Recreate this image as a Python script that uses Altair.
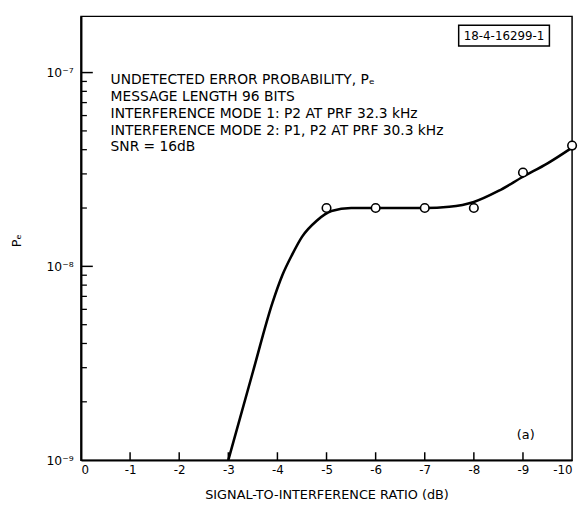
import altair as alt
import pandas as pd

# measured points
pt_x = [-5, -6, -7, -8, -9, -10]
pt_y = [2.0e-8, 2.0e-8, 2.0e-8, 2.0e-8, 3.05e-8, 4.2e-8]

# fitted curve
cv_x = [-3, -3.5, -3.9, -4.1, -4.3, -4.5, -4.8, -5.1, -5.5, -6, -7, -7.5, -8, -8.5, -9, -9.5, -10]
cv_y = [1e-9, 2.85e-9, 6.5e-9, 9e-9, 1.15e-8, 1.42e-8, 1.72e-8, 1.93e-8, 2.0e-8, 2.0e-8,
        2.0e-8, 2.03e-8, 2.15e-8, 2.45e-8, 2.9e-8, 3.4e-8, 4.1e-8]

x_ticks = [0, -1, -2, -3, -4, -5, -6, -7, -8, -9, -10]
inner_x_ticks = [-1, -2, -3, -4, -5, -6, -7, -8, -9]
y_major = [1e-9, 1e-8, 1e-7]
y_minor = [2e-9, 3e-9, 4e-9, 5e-9, 6e-9, 7e-9, 8e-9, 9e-9,
           2e-8, 3e-8, 4e-8, 5e-8, 6e-8, 7e-8, 8e-8, 9e-8]

notes = ["UNDETECTED ERROR PROBABILITY, P\u2091",
         "MESSAGE LENGTH 96 BITS",
         "INTERFERENCE MODE 1: P2 AT PRF 32.3 kHz",
         "INTERFERENCE MODE 2: P1, P2 AT PRF 30.3 kHz",
         "SNR = 16dB"]

FONT = "DejaVu Sans"
W, H = 498, 450

xscale = alt.Scale(domain=[0, -10], nice=False, zero=False)
yscale = alt.Scale(type="log", domain=[1e-9, 1.95e-7], nice=False)

xaxis = alt.Axis(values=x_ticks, tickSize=0, grid=False, labelPadding=5,
                 labelExpr="datum.value == 0 ? '0' : '-' + abs(datum.value)",
                 labelFont=FONT, labelFontSize=12, labelColor="black",
                 title="SIGNAL-TO-INTERFERENCE RATIO (dB)", titleFont=FONT,
                 titleFontSize=13, titleFontWeight="normal", titlePadding=13,
                 titleColor="black", domainColor="black", domainWidth=2)
yaxis = alt.Axis(values=y_major, tickSize=0, grid=False, labelPadding=8,
                 labelExpr="datum.value > 5e-8 ? '10\u207b\u2077' : (datum.value > 5e-9 ? '10\u207b\u2078' : '10\u207b\u2079')",
                 labelFont=FONT, labelFontSize=12.5, labelColor="black",
                 title="P\u2091", titleFont=FONT, titleFontSize=13,
                 titleFontWeight="normal", titleColor="black",
                 titleX=-58, titleY=227, titleAngle=-90,
                 domainColor="black", domainWidth=2)

curve_df = pd.DataFrame({"sir": cv_x, "pe": cv_y})
pts_df = pd.DataFrame({"sir": pt_x, "pe": pt_y})

curve = alt.Chart(curve_df).mark_line(color="black", strokeWidth=2.6, interpolate="monotone").encode(
    x=alt.X("sir:Q", scale=xscale, axis=xaxis),
    y=alt.Y("pe:Q", scale=yscale, axis=yaxis),
)

points = alt.Chart(pts_df).mark_point(shape="circle", size=75, filled=True, fill="white",
                                      stroke="black", strokeWidth=1.6, opacity=1).encode(
    x=alt.X("sir:Q", scale=xscale),
    y=alt.Y("pe:Q", scale=yscale),
)

xt = alt.Chart(pd.DataFrame({"sir": inner_x_ticks})).mark_rule(color="black", strokeWidth=1.5).encode(
    x=alt.X("sir:Q", scale=xscale),
    y=alt.value(H),
    y2=alt.value(H - 8),
)

ymaj = alt.Chart(pd.DataFrame({"pe": y_major[1:]})).mark_rule(color="black", strokeWidth=1.5).encode(
    y=alt.Y("pe:Q", scale=yscale),
    x=alt.value(0),
    x2=alt.value(12),
)

ymin = alt.Chart(pd.DataFrame({"pe": y_minor})).mark_rule(color="black", strokeWidth=1.3).encode(
    y=alt.Y("pe:Q", scale=yscale),
    x=alt.value(0),
    x2=alt.value(6),
)

one = alt.Data(values=[{}])

note = alt.Chart(one).mark_text(align="left", baseline="top", font=FONT, fontSize=14,
                                 lineBreak="\n", lineHeight=17, color="black").encode(
    x=alt.value(30), y=alt.value(58), text=alt.value("\n".join(notes)))

box = alt.Chart(one).mark_rect(fill="white", stroke="black", strokeWidth=1.5).encode(
    x=alt.value(383), x2=alt.value(475), y=alt.value(9), y2=alt.value(30))

box_text = alt.Chart(one).mark_text(align="center", baseline="middle", font=FONT, fontSize=12,
                                     color="black").encode(
    x=alt.value(429), y=alt.value(20), text=alt.value("18-4-16299-1"))

panel = alt.Chart(one).mark_text(align="center", baseline="middle", font=FONT, fontSize=13,
                                  color="black").encode(
    x=alt.value(451), y=alt.value(425), text=alt.value("(a)"))

chart = alt.layer(curve, xt, ymaj, ymin, points, note, box, box_text, panel).properties(
    width=W, height=H,
    autosize=alt.AutoSizeParams(type="none"),
    padding={"left": 74, "top": 5, "right": 6, "bottom": 42},
    background="white",
).configure_view(stroke="black", strokeWidth=1.5)

chart.save("out.html", embed_options={"renderer": "svg", "actions": False})
